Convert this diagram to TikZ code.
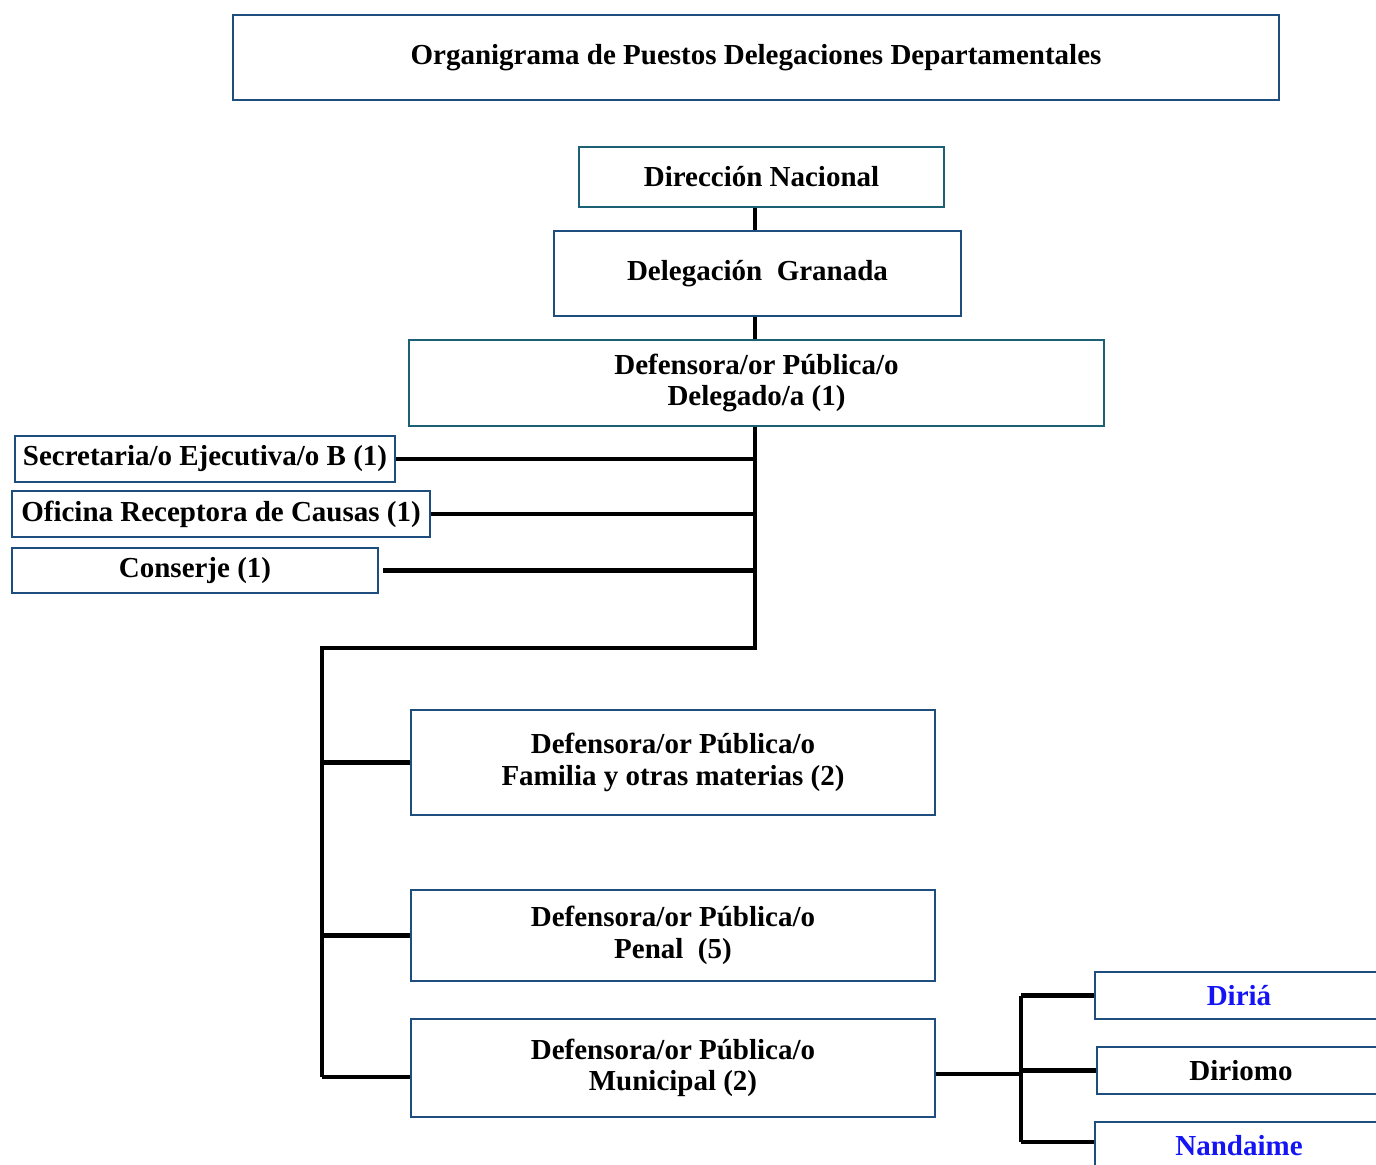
\documentclass[tikz,border=0pt]{standalone}
\usepackage{fontspec}
\setmainfont{Liberation Serif}
\definecolor{boxblue}{RGB}{30,78,126}
\definecolor{boxteal}{RGB}{28,96,116}
\definecolor{placeblue}{RGB}{20,20,245}
\begin{document}
\begin{tikzpicture}[x=0.02cm, y=-0.02cm,
    every node/.style={font=\fontsize{16.5}{18}\selectfont\bfseries, align=center, inner sep=0pt},
    post/.style={draw=boxblue, line width=1.3pt},
    postteal/.style={draw=boxteal, line width=1.3pt},
    link/.style={line width=2.8pt, black}]
    \clip (0,0) rectangle (1376,1165);
    \fill[white] (0,0) rectangle (1376,1165);
    % cabecera
    \node[post, minimum width=20.92cm, minimum height=1.7cm] (title) at (756,57.5)
        {Organigrama de Puestos Delegaciones Departamentales};
    % linea de mando
    \node[postteal, minimum width=7.3cm, minimum height=1.2cm] (dirnac) at (761.5,177) {Dirección Nacional};
    \node[post, minimum width=8.14cm, minimum height=1.7cm] (deleg) at (757.5,273.5) {Delegación~ Granada};
    \node[postteal, minimum width=13.9cm, minimum height=1.72cm] (defdel) at (756.5,383)
        {Defensora/or Pública/o\\Delegado/a (1)};
    % apoyo
    \node[post, minimum width=7.6cm, minimum height=0.92cm] (secre) at (205,459) {Secretaria/o Ejecutiva/o B (1)};
    \node[post, minimum width=8.36cm, minimum height=0.92cm] (ofic) at (221,514) {Oficina Receptora de Causas (1)};
    \node[post, minimum width=7.32cm, minimum height=0.9cm] (consj) at (195,570.5) {Conserje (1)};
    % defensores
    \node[post, minimum width=10.48cm, minimum height=2.1cm] (fam) at (673,762.5)
        {Defensora/or Pública/o\\Familia y otras materias (2)};
    \node[post, minimum width=10.48cm, minimum height=1.82cm] (penal) at (673,935.5)
        {Defensora/or Pública/o\\Penal~ (5)};
    \node[post, minimum width=10.48cm, minimum height=1.96cm] (munic) at (673,1068)
        {Defensora/or Pública/o\\Municipal (2)};
    % municipios
    \node[post, minimum width=5.76cm, minimum height=0.94cm, text=placeblue] (diria) at (1239,995.5) {Diriá};
    \node[post, minimum width=5.76cm, minimum height=0.94cm] (diriomo) at (1241,1070.5) {Diriomo};
    \node[post, minimum width=5.76cm, minimum height=0.94cm, text=placeblue] (nand) at (1239,1145.5) {Nandaime};

    \coordinate (trunk) at (755,648);
    \coordinate (left) at (322,648);
    \coordinate (low) at (322,1077);
    \coordinate (fork) at (1021,1074);

    \draw[link] (dirnac.south -| trunk) -- (deleg.north -| trunk);
    \draw[link] (deleg.south -| trunk) -- (defdel.north -| trunk);
    \draw[link, line join=miter] (defdel.south -| trunk) -- (trunk) -- (left) -- (low);
    \draw[link] (secre.east) -- (secre.east -| trunk);
    \draw[link] (ofic.east) -- (ofic.east -| trunk);
    \draw[link] (consj.east) ++(4,0) -- (consj.east -| trunk);
    \draw[link] (fam.west -| left) -- (fam.west);
    \draw[link] (penal.west -| left) -- (penal.west);
    \draw[link] (low) -- (low -| munic.west);
    \draw[link] (munic.east |- fork) -- (fork);
    \draw[link] (fork |- diria.west) -- (fork |- 0,1142);
    \draw[link] (fork |- diria.west) -- (diria.west);
    \draw[link] (fork |- diriomo.west) -- (diriomo.west);
    \draw[link] (fork |- 0,1142) -- (nand.west |- 0,1142);
\end{tikzpicture}
\end{document}
